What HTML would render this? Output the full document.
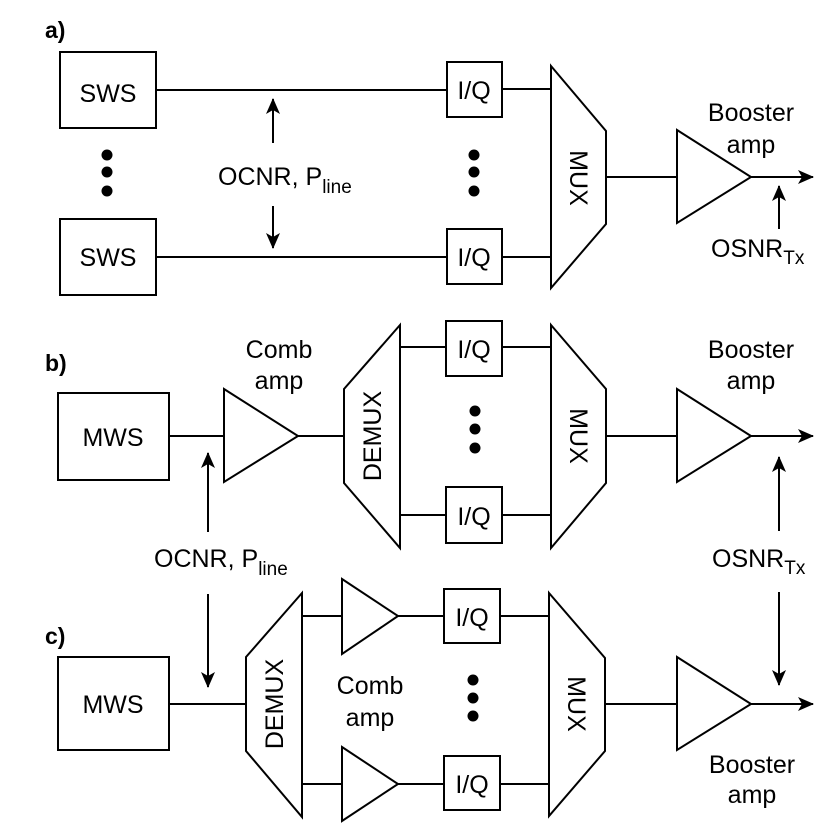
<!DOCTYPE html>
<html><head><meta charset="utf-8"><style>
html,body{margin:0;padding:0;background:#fff;}
svg{display:block;}
text{font-family:"Liberation Sans",Arial,sans-serif;fill:#000;}
</style></head><body>
<svg width="831" height="828" viewBox="0 0 831 828" xmlns="http://www.w3.org/2000/svg">
<defs>
<marker id="ah" markerWidth="16" markerHeight="14" refX="15" refY="7" orient="auto" markerUnits="userSpaceOnUse">
<path d="M0,0 L16,7 L0,14 L4,7 Z" fill="#000"/>
</marker>
</defs>
<g stroke="#000" stroke-width="2" fill="none">
<!-- Panel a -->
<rect x="60" y="52" width="96" height="76"/>
<rect x="60" y="219" width="96" height="76"/>
<line x1="156" y1="90" x2="447" y2="90"/>
<line x1="156" y1="257" x2="447" y2="257"/>
<rect x="447" y="62" width="55" height="55"/>
<rect x="447" y="229" width="55" height="55"/>
<line x1="502" y1="89" x2="551" y2="89"/>
<line x1="502" y1="257" x2="551" y2="257"/>
<polygon points="551,66 606,131 606,224 551,288"/>
<line x1="606" y1="177" x2="677" y2="177"/>
<polygon points="677,130 751,177 677,223"/>
<line x1="751" y1="177" x2="813" y2="177" marker-end="url(#ah)"/>
<line x1="273" y1="143" x2="273" y2="99" marker-end="url(#ah)"/>
<line x1="273" y1="206" x2="273" y2="248" marker-end="url(#ah)"/>
<line x1="779" y1="229" x2="779" y2="186" marker-end="url(#ah)"/>
<!-- Panel b -->
<rect x="58" y="393" width="111" height="87"/>
<line x1="169" y1="436" x2="224" y2="436"/>
<polygon points="224,389 298,436 224,482"/>
<line x1="298" y1="436" x2="344" y2="436"/>
<polygon points="344,389 400,325 400,548 344,483"/>
<line x1="400" y1="347" x2="446" y2="347"/>
<line x1="400" y1="515" x2="446" y2="515"/>
<rect x="446" y="321" width="56" height="55"/>
<rect x="446" y="487" width="56" height="56"/>
<line x1="502" y1="347" x2="551" y2="347"/>
<line x1="502" y1="515" x2="551" y2="515"/>
<polygon points="551,325 606,389 606,483 551,548"/>
<line x1="606" y1="436" x2="677" y2="436"/>
<polygon points="677,389 751,436 677,482"/>
<line x1="751" y1="436" x2="813" y2="436" marker-end="url(#ah)"/>
<line x1="208" y1="532" x2="208" y2="453" marker-end="url(#ah)"/>
<line x1="779" y1="531" x2="779" y2="457" marker-end="url(#ah)"/>
<!-- Panel c -->
<rect x="58" y="657" width="111" height="93"/>
<line x1="169" y1="704" x2="246" y2="704"/>
<polygon points="246,657 302,593 302,817 246,751"/>
<line x1="302" y1="616" x2="342" y2="616"/>
<line x1="302" y1="784" x2="342" y2="784"/>
<polygon points="342,579 398,616 342,654"/>
<polygon points="342,747 398,784 342,821"/>
<line x1="398" y1="616" x2="444" y2="616"/>
<line x1="398" y1="784" x2="444" y2="784"/>
<rect x="444" y="589" width="56" height="54"/>
<rect x="444" y="756" width="56" height="54"/>
<line x1="500" y1="616" x2="549" y2="616"/>
<line x1="500" y1="784" x2="549" y2="784"/>
<polygon points="549,593 605,658 605,751 549,816"/>
<line x1="605" y1="704" x2="677" y2="704"/>
<polygon points="677,657 751,704 677,750"/>
<line x1="751" y1="704" x2="813" y2="704" marker-end="url(#ah)"/>
<line x1="208" y1="594" x2="208" y2="687" marker-end="url(#ah)"/>
<line x1="779" y1="592" x2="779" y2="685" marker-end="url(#ah)"/>
</g>
<g fill="#000">
<circle cx="107" cy="155" r="5.5"/><circle cx="107" cy="172" r="5.5"/><circle cx="107" cy="191" r="5.5"/>
<circle cx="474" cy="155" r="5.5"/><circle cx="474" cy="172" r="5.5"/><circle cx="474" cy="191" r="5.5"/>
<circle cx="475" cy="411" r="5.5"/><circle cx="475" cy="429" r="5.5"/><circle cx="475" cy="448" r="5.5"/>
<circle cx="473" cy="680" r="5.5"/><circle cx="473" cy="698" r="5.5"/><circle cx="473" cy="716" r="5.5"/>
</g>
<g font-size="23" font-weight="bold">
<text x="45" y="38">a)</text>
<text x="45" y="371">b)</text>
<text x="45" y="644">c)</text>
</g>
<g font-size="25" text-anchor="middle">
<text x="108" y="102">SWS</text>
<text x="108" y="266">SWS</text>
<text x="474" y="99">I/Q</text>
<text x="474" y="266">I/Q</text>
<text x="751" y="121">Booster</text>
<text x="751" y="153">amp</text>
<text x="113" y="446">MWS</text>
<text x="279" y="358">Comb</text>
<text x="279" y="389">amp</text>
<text x="474" y="358">I/Q</text>
<text x="474" y="525">I/Q</text>
<text x="751" y="358">Booster</text>
<text x="751" y="389">amp</text>
<text x="113" y="713">MWS</text>
<text x="370" y="694">Comb</text>
<text x="370" y="726">amp</text>
<text x="472" y="626">I/Q</text>
<text x="472" y="793">I/Q</text>
<text x="752" y="773">Booster</text>
<text x="752" y="803">amp</text>
<text transform="translate(570,178) rotate(90)">MUX</text>
<text transform="translate(570,436) rotate(90)">MUX</text>
<text transform="translate(568,704) rotate(90)">MUX</text>
<text transform="translate(381,436) rotate(-90)">DEMUX</text>
<text transform="translate(283,704) rotate(-90)">DEMUX</text>
</g>
<g font-size="25">
<text x="218" y="185">OCNR, P<tspan font-size="19" dy="8">line</tspan></text>
<text x="154" y="567">OCNR, P<tspan font-size="19" dy="8">line</tspan></text>
<text x="711" y="257">OSNR<tspan font-size="19" dy="7">Tx</tspan></text>
<text x="712" y="567">OSNR<tspan font-size="19" dy="7">Tx</tspan></text>
</g>
</svg>
</body></html>
